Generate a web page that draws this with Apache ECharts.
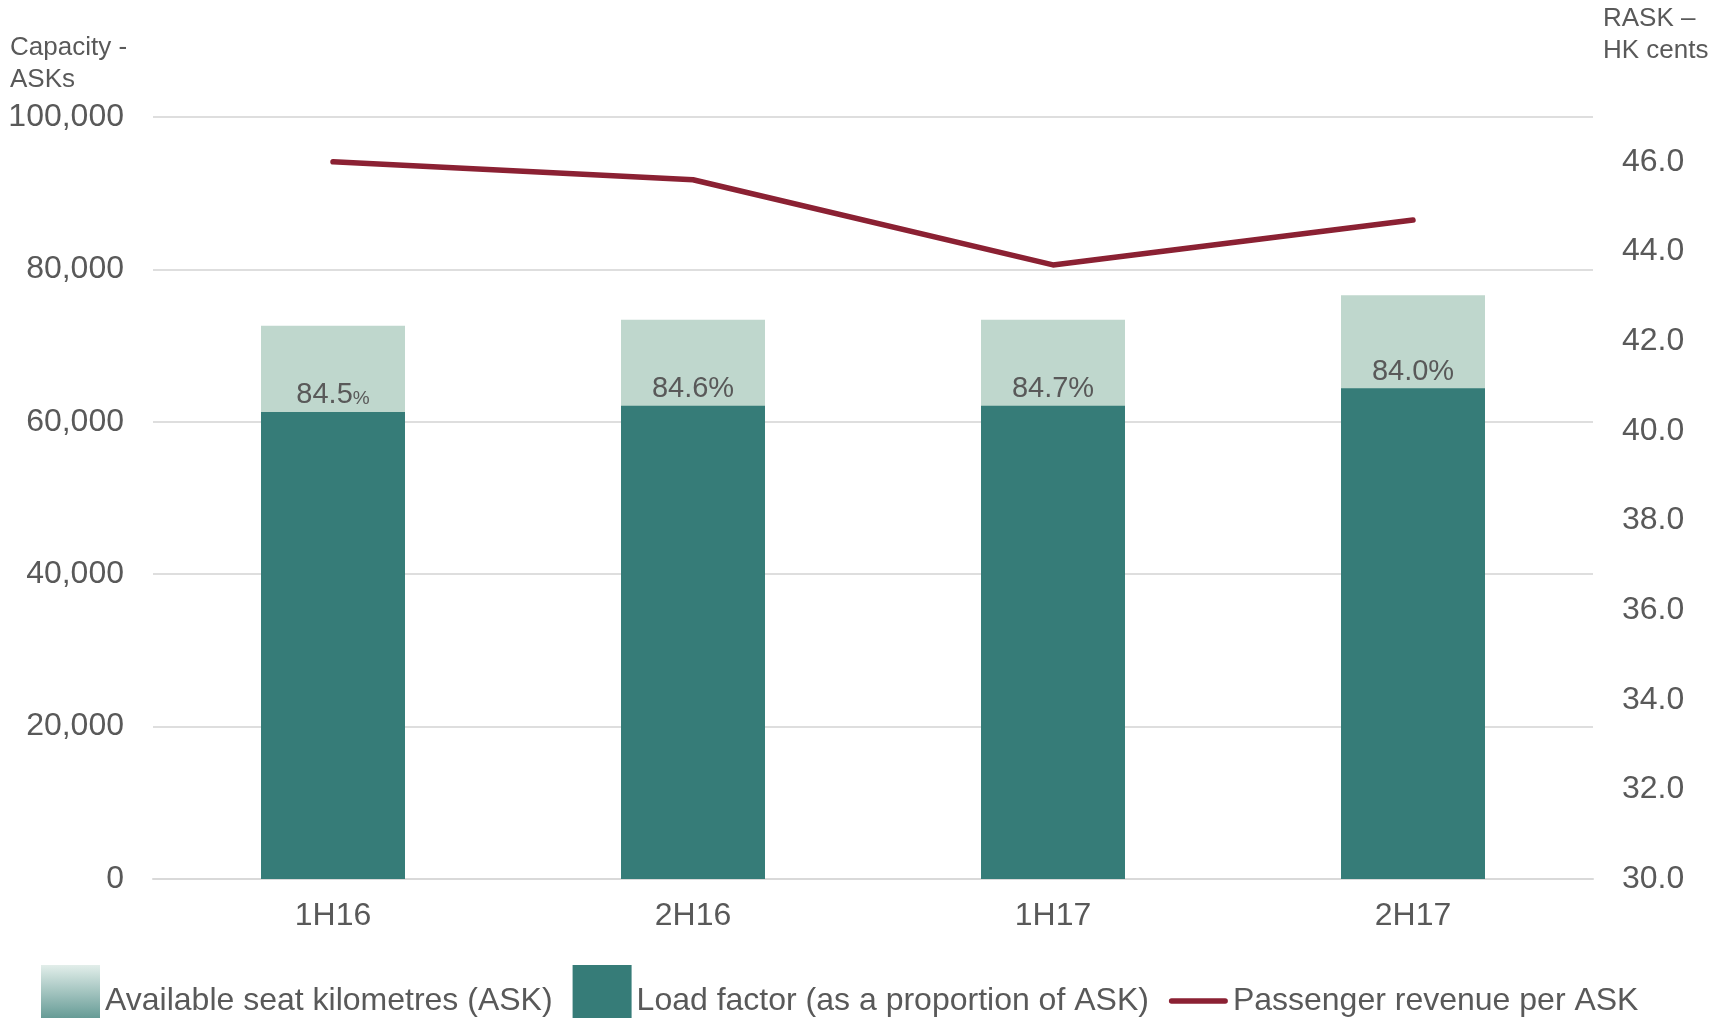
<!DOCTYPE html>
<html>
<head>
<meta charset="utf-8">
<title>Capacity and RASK</title>
<script src="https://cdn.jsdelivr.net/npm/echarts@6/dist/echarts.min.js"></script>
<style>
  html, body { margin: 0; padding: 0; background: #fff; }
  #chart { width: 1727px; height: 1018px; }
</style>
</head>
<body>
<div id="chart"></div>
<script>
// data
var periods = ['1H16', '2H16', '1H17', '2H17'];
var askValues = [72600, 73400, 73400, 76600];      // capacity, ASKs
var loadValues = [61300, 62100, 62100, 64400];     // load factor part of ASK
var loadFactor = [84.5, 84.6, 84.7, 84.0];         // %
var raskValues = [46.0, 45.6, 43.7, 44.7];         // HK cents

var textColor = '#595959';
var lineColor = '#8b2133';
var baseFont = 'Liberation Sans, Arial, sans-serif';

var myChart = echarts.init(document.getElementById('chart'));

var option = {
    backgroundColor: '#ffffff',
    animation: false,
    textStyle: { fontFamily: baseFont },
    title: [
        {
            text: 'Capacity -\nASKs',
            left: 10, top: 32, padding: 0,
            textStyle: { fontSize: 26, fontWeight: 'normal', color: textColor, lineHeight: 32, fontFamily: baseFont }
        },
        {
            text: 'RASK –\nHK cents',
            left: 1603, top: 3, padding: 0,
            textStyle: { fontSize: 26, fontWeight: 'normal', color: textColor, lineHeight: 32, fontFamily: baseFont }
        }
    ],
    grid: { left: 153, right: 134, top: 117, bottom: 139, containLabel: false },
    legend: {
        left: 36,
        top: 960,
        itemGap: 20,
        itemWidth: 59,
        itemHeight: 72,
        textStyle: {
            fontSize: 32,
            color: textColor,
            fontFamily: baseFont
        },
        data: [
            {
                name: 'Available seat kilometres (ASK)',
                icon: 'rect',
                itemStyle: {
                    color: new echarts.graphic.LinearGradient(0, 0, 0, 1, [
                        { offset: 0, color: '#e2eeea' },
                        { offset: 1, color: '#3a7e78' }
                    ])
                }
            },
            { name: 'Load factor (as a proportion of ASK)', icon: 'rect' },
            {
                name: 'Passenger revenue per ASK',
                // thick line with round ends, like the source legend
                icon: 'path://M2.5,0 L51.5,0 A2.5,2.5 0 0 1 51.5,5 L2.5,5 A2.5,2.5 0 0 1 2.5,0 Z',
                itemStyle: { color: lineColor }
            }
        ]
    },
    xAxis: {
        type: 'category',
        data: periods,
        axisLine: { show: true, lineStyle: { color: '#d9d9d9', width: 2 } },
        axisTick: { show: false },
        axisLabel: { fontSize: 32, color: textColor, margin: 21 }
    },
    yAxis: [
        {
            type: 'value',
            min: 0,
            max: 100000,
            interval: 20000,
            axisLine: { show: false },
            axisTick: { show: false },
            splitLine: { lineStyle: { color: '#dedede', width: 2 } },
            axisLabel: {
                fontSize: 32,
                color: textColor,
                margin: 29,
                formatter: function (v) { return v.toLocaleString('en-US'); }
            }
        },
        {
            type: 'value',
            min: 30,
            max: 47,
            interval: 2,
            position: 'right',
            axisLine: { show: false },
            axisTick: { show: false },
            splitLine: { show: false },
            axisLabel: {
                fontSize: 32,
                color: textColor,
                margin: 29,
                showMaxLabel: false,
                formatter: function (v) { return v.toFixed(1); }
            }
        }
    ],
    series: [
        {
            name: 'Available seat kilometres (ASK)',
            type: 'bar',
            barWidth: 144,
            barGap: '-100%',
            itemStyle: { color: '#bfd7cd' },
            data: askValues
        },
        {
            name: 'Load factor (as a proportion of ASK)',
            type: 'bar',
            barWidth: 144,
            barGap: '-100%',
            itemStyle: { color: '#367c78' },
            label: {
                show: true,
                position: 'top',
                distance: 2,
                fontSize: 29,
                color: textColor,
                formatter: function (p) {
                    var v = loadFactor[p.dataIndex].toFixed(1);
                    // first label in the source has a smaller percent sign
                    if (p.dataIndex === 0) return '{n|' + v + '}{s|%}';
                    return v + '%';
                },
                rich: {
                    n: { fontSize: 29, color: textColor },
                    s: { fontSize: 19, color: textColor, padding: [6, 0, 0, 0] }
                }
            },
            data: loadValues
        },
        {
            name: 'Passenger revenue per ASK',
            type: 'line',
            yAxisIndex: 1,
            symbol: 'none',
            z: 5,
            itemStyle: { color: lineColor },
            lineStyle: { color: lineColor, width: 5.5, cap: 'round', join: 'round' },
            data: raskValues
        }
    ]
};

myChart.setOption(option);
window.addEventListener('resize', function () { myChart.resize(); });
</script>
</body>
</html>
